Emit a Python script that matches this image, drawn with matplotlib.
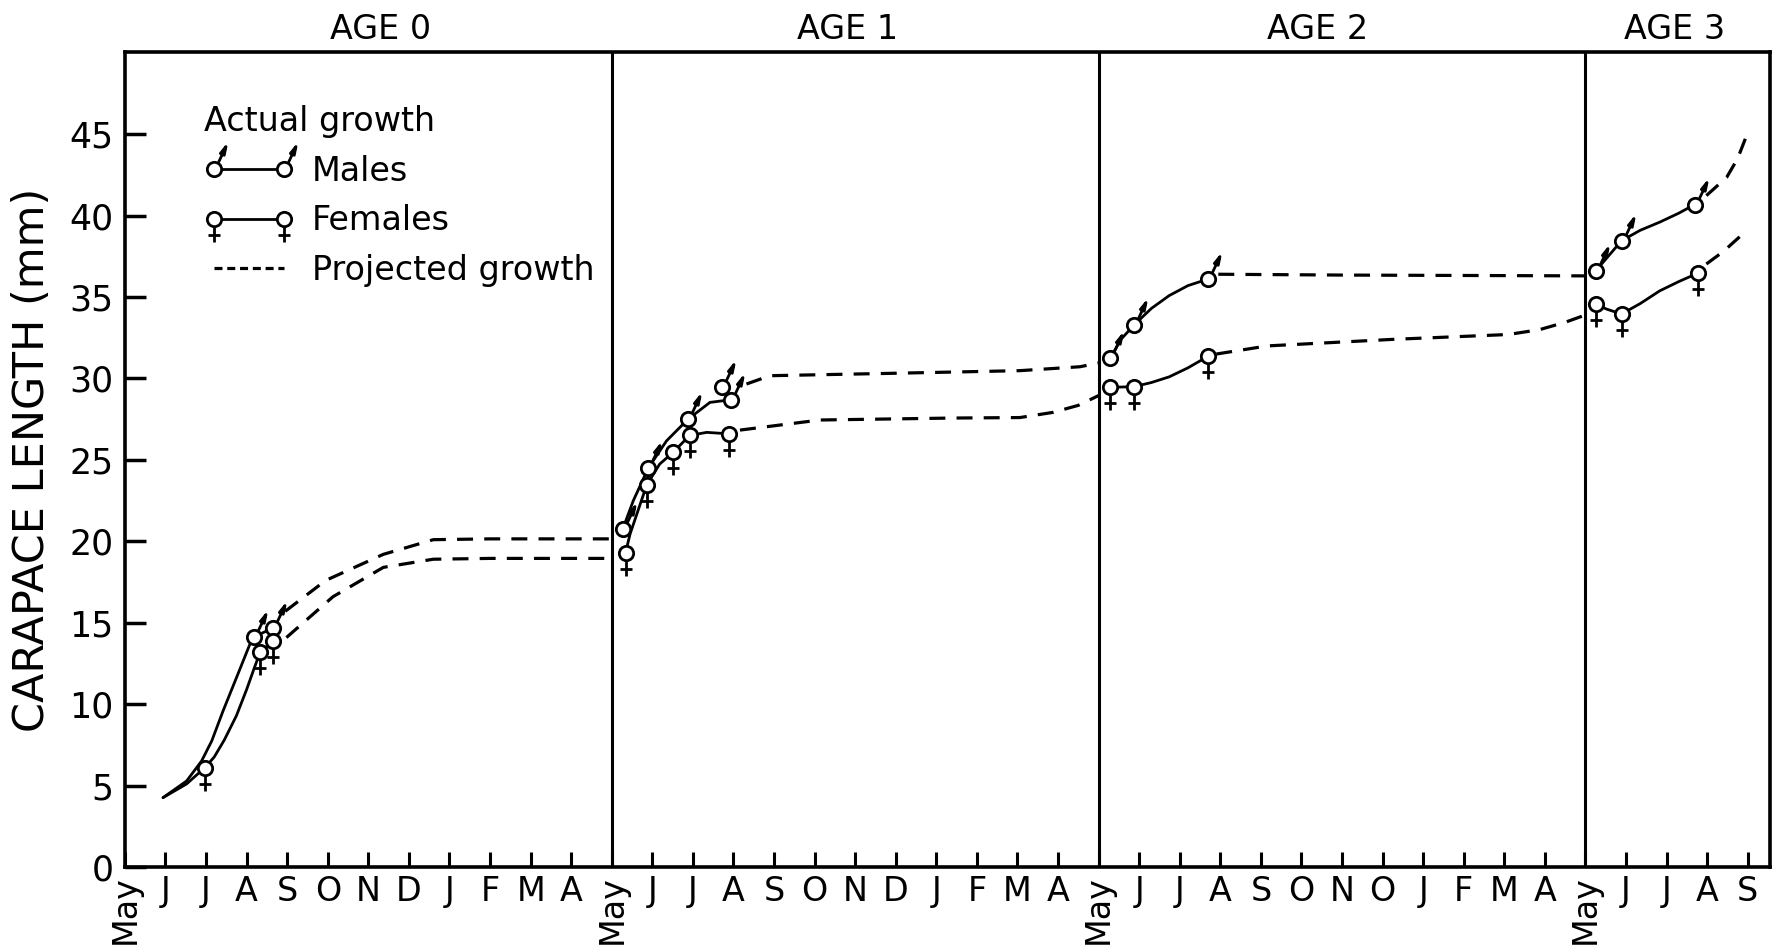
import matplotlib
matplotlib.use("Agg")
import matplotlib.pyplot as plt
from matplotlib.path import Path
from matplotlib.lines import Line2D
from matplotlib.legend_handler import HandlerTuple

plt.rcParams['font.family'] = ['DejaVu Sans']

# x = months since May of age 0, y = carapace length (mm)
months_age0 = ['May', 'J', 'J', 'A', 'S', 'O', 'N', 'D', 'J', 'F', 'M', 'A']
months_age1 = ['May', 'J', 'J', 'A', 'S', 'O', 'N', 'D', 'J', 'F', 'M', 'A']
months_age2 = ['May', 'J', 'J', 'A', 'S', 'O', 'N', 'O', 'J', 'F', 'M', 'A']
months_age3 = ['May', 'J', 'J', 'A', 'S']
age_labels = ['AGE 0', 'AGE 1', 'AGE 2', 'AGE 3']
age_bounds = [12, 24, 36]

# age 0
male0_x = [0.94, 1.52, 1.89, 2.14, 2.42, 2.75, 3.08, 3.19, 3.66]
male0_y = [4.26, 5.28, 6.51, 7.74, 9.59, 11.63, 13.68, 14.13, 14.7]
male0_pts_x = [3.19, 3.66]
male0_pts_y = [14.13, 14.7]
female0_x = [0.94, 1.52, 1.97, 2.2, 2.45, 2.75, 3.0, 3.2, 3.34, 3.66]
female0_y = [4.26, 5.1, 6.1, 6.75, 7.8, 9.3, 10.9, 12.3, 13.23, 13.85]
female0_pts_x = [1.97, 3.34, 3.66]
female0_pts_y = [6.1, 13.23, 13.85]
male0_proj_x = [3.95, 4.95, 6.37, 7.6, 9.0, 12.0]
male0_proj_y = [15.7, 17.6, 19.2, 20.1, 20.15, 20.15]
female0_proj_x = [3.98, 5.13, 6.37, 7.6, 9.0, 12.0]
female0_proj_y = [14.09, 16.6, 18.4, 18.9, 18.95, 18.95]

# age 1
male1_x = [12.27, 12.53, 12.9, 13.35, 13.88, 14.42, 14.95]
male1_y = [20.75, 22.49, 24.5, 26.17, 27.5, 28.53, 28.7]
male1_pts_x = [12.27, 12.9, 13.88, 14.72, 14.95]
male1_pts_y = [20.75, 24.5, 27.5, 29.5, 28.7]
female1_x = [12.34, 12.45, 12.86, 13.18, 13.51, 13.92, 14.34, 14.89]
female1_y = [19.3, 20.44, 23.45, 24.74, 25.46, 26.5, 26.69, 26.6]
female1_pts_x = [12.34, 12.86, 13.51, 13.92, 14.89]
female1_pts_y = [19.3, 23.45, 25.46, 26.5, 26.6]
male1_proj_x = [15.32, 15.9, 18.77, 22.06, 23.54, 24.0]
male1_proj_y = [29.66, 30.17, 30.31, 30.48, 30.72, 30.95]
female1_proj_x = [15.16, 17.13, 20.41, 22.06, 22.88, 23.5, 24.0]
female1_proj_y = [26.83, 27.45, 27.57, 27.6, 27.92, 28.35, 28.95]

# age 2
male2_x = [24.29, 24.55, 24.88, 25.3, 25.74, 26.2, 26.69]
male2_y = [31.26, 32.4, 33.3, 34.3, 35.09, 35.7, 36.1]
male2_pts_x = [24.29, 24.88, 26.69]
male2_pts_y = [31.26, 33.3, 36.1]
female2_x = [24.27, 24.88, 25.3, 25.74, 26.2, 26.69]
female2_y = [29.45, 29.5, 29.75, 30.1, 30.65, 31.35]
female2_pts_x = [24.27, 24.88, 26.69]
female2_pts_y = [29.45, 29.5, 31.35]
male2_proj_x = [26.95, 30.0, 36.0]
male2_proj_y = [36.4, 36.35, 36.3]
female2_proj_x = [26.9, 28.16, 31.24, 34.1, 34.87, 35.5, 36.0]
female2_proj_y = [31.5, 32.0, 32.4, 32.7, 33.0, 33.45, 33.9]

# age 3
male3_x = [36.25, 36.89, 37.35, 37.83, 38.3, 38.69]
male3_y = [36.6, 38.46, 39.1, 39.6, 40.15, 40.68]
male3_pts_x = [36.25, 36.89, 38.69]
male3_pts_y = [36.6, 38.46, 40.68]
female3_x = [36.25, 36.52, 36.89, 37.35, 37.83, 38.3, 38.78]
female3_y = [34.57, 34.26, 33.96, 34.6, 35.38, 35.95, 36.48]
female3_pts_x = [36.25, 36.89, 38.78]
female3_pts_y = [34.57, 33.96, 36.48]
male3_proj_x = [38.98, 39.48, 39.75, 40.0]
male3_proj_y = [41.23, 42.35, 43.5, 45.1]
female3_proj_x = [38.98, 39.4, 39.8]
female3_proj_y = [37.03, 37.8, 38.7]

# sex symbols: circle is drawn separately, these are the arrow / cross parts
male_sym = Path([(0.25, 0.43), (0.8, 1.6), (0.8, 1.6), (0.409, 1.121), (0.681, 0.993), (0.8, 1.6)],
                [Path.MOVETO, Path.LINETO, Path.MOVETO, Path.LINETO, Path.LINETO, Path.CLOSEPOLY])
female_sym = Path([(0, -0.5), (0, -1.6), (-0.4, -1.1), (0.4, -1.1)],
                  [Path.MOVETO, Path.LINETO, Path.MOVETO, Path.LINETO])
SYM_MS = 33
CIRC_MS = SYM_MS / 3.2

fig = plt.figure(figsize=(17.82, 9.52), dpi=100)
ax = fig.add_axes([0.0701, 0.0893, 0.9232, 0.8561])


def solid(x, y):
    ax.plot(x, y, color='black', lw=2, zorder=2, solid_capstyle='round')


def dashed(x, y):
    ax.plot(x, y, color='black', lw=2.3, ls=(0, (5, 3.5)), zorder=2)


def points(x, y, sym):
    ax.plot(x, y, ls='none', marker=sym, ms=SYM_MS, mfc='black', mec='black', mew=2, zorder=4)
    ax.plot(x, y, ls='none', marker='o', ms=CIRC_MS, mfc='white', mec='black', mew=2, zorder=5)


solid(male0_x, male0_y)
solid(female0_x, female0_y)
solid(male1_x, male1_y)
solid(female1_x, female1_y)
solid(male2_x, male2_y)
solid(female2_x, female2_y)
solid(male3_x, male3_y)
solid(female3_x, female3_y)

dashed(male0_proj_x, male0_proj_y)
dashed(female0_proj_x, female0_proj_y)
dashed(male1_proj_x, male1_proj_y)
dashed(female1_proj_x, female1_proj_y)
dashed(male2_proj_x, male2_proj_y)
dashed(female2_proj_x, female2_proj_y)
dashed(male3_proj_x, male3_proj_y)
dashed(female3_proj_x, female3_proj_y)

points(male0_pts_x, male0_pts_y, male_sym)
points(female0_pts_x, female0_pts_y, female_sym)
points(male1_pts_x, male1_pts_y, male_sym)
points(female1_pts_x, female1_pts_y, female_sym)
points(male2_pts_x, male2_pts_y, male_sym)
points(female2_pts_x, female2_pts_y, female_sym)
points(male3_pts_x, male3_pts_y, male_sym)
points(female3_pts_x, female3_pts_y, female_sym)

for b in age_bounds:
    ax.axvline(b, color='black', lw=2.2, zorder=1)

ax.set_xlim(0, 40.55)
ax.set_ylim(0, 50.05)

month_labels = months_age0 + months_age1 + months_age2 + months_age3
ax.set_xticks(range(len(month_labels)))
ax.set_xticklabels(month_labels)
for lab in ax.get_xticklabels():
    if lab.get_text() == 'May':
        lab.set_rotation(90)
        lab.set_fontsize(21)
ax.set_yticks(range(0, 50, 5))

ax.tick_params(axis='x', direction='in', length=11, width=2.2, labelsize=24, pad=6)
ax.tick_params(axis='y', direction='in', length=15, width=2.5, labelsize=25, pad=8)
for s in ax.spines.values():
    s.set_linewidth(2.6)

age_x = [6.3, 17.8, 29.4, 38.2]
for xpos, lab in zip(age_x, age_labels):
    ax.text(xpos, 1.027, lab, transform=ax.get_xaxis_transform(), ha='center', va='center', fontsize=24)

ax.set_ylabel('CARAPACE LENGTH (mm)', fontsize=31)
ax.yaxis.set_label_coords(-0.044, 0.5)

# legend
m_line = Line2D([], [], color='black', lw=2, marker='o', ms=CIRC_MS, mfc='white', mec='black', mew=2)
m_sym = Line2D([], [], ls='none', marker=male_sym, ms=SYM_MS, mfc='black', mec='black', mew=2)
f_line = Line2D([], [], color='black', lw=2, marker='o', ms=CIRC_MS, mfc='white', mec='black', mew=2)
f_sym = Line2D([], [], ls='none', marker=female_sym, ms=SYM_MS, mfc='black', mec='black', mew=2)
p_line = Line2D([], [], color='black', lw=2.3, ls=(0, (2.5, 1.5)))
leg = ax.legend([(m_sym, m_line), (f_sym, f_line), p_line], ['Males', 'Females', 'Projected growth'],
                handler_map={tuple: HandlerTuple(ndivide=1)}, numpoints=2,
                title='Actual growth', title_fontsize=24, fontsize=24, alignment='left',
                loc='upper left', bbox_to_anchor=(0.048, 0.935), borderaxespad=0, frameon=False,
                handlelength=2.7, handletextpad=0.55, labelspacing=0.5, borderpad=0)

fig.savefig('out.png', dpi=100)
